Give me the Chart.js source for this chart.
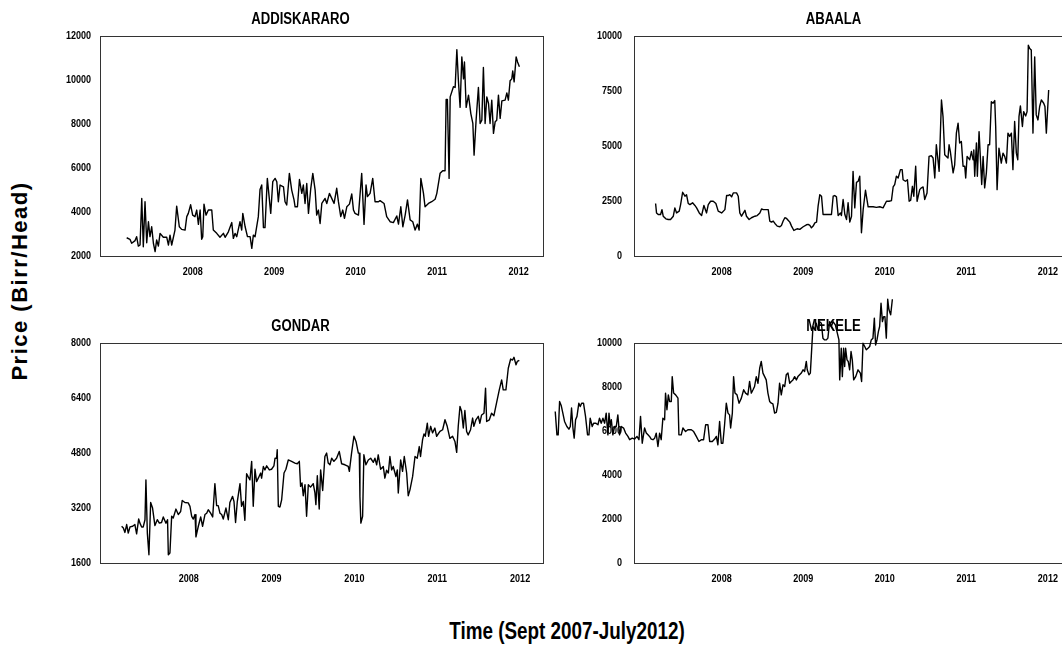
<!DOCTYPE html>
<html>
<head>
<meta charset="utf-8">
<title>Cattle price series</title>
<script src="https://cdn.jsdelivr.net/npm/chart.js@4.4.1/dist/chart.umd.min.js"></script>
<style>
  html, body { margin: 0; padding: 0; background: #fff; }
  body { width: 1062px; height: 649px; overflow: hidden; position: relative; }
  canvas { position: absolute; }
  .axis-title { position: absolute; font-weight: bold; color: #000; white-space: nowrap; }
</style>
</head>
<body>
<canvas id="cAddis"  width="490" height="284" style="left:58px;top:0px"></canvas>
<canvas id="cAbaala" width="577" height="284" style="left:545px;top:0px"></canvas>
<canvas id="cGondar" width="490" height="284" style="left:58px;top:307px"></canvas>
<canvas id="cMekele" width="577" height="301" style="left:545px;top:290px"></canvas>
<div id="yTitle" class="axis-title">Price (Birr/Head)</div>
<div id="xTitle" class="axis-title">Time (Sept 2007-July2012)</div>

<script>
// Weekly cattle prices (Birr/Head); time is counted in weeks from the first observation.
const yearLabels = ['2008', '2009', '2010', '2011', '2012'];
const tickWeeks  = [42.5, 95, 147.5, 200, 252.5];

const addisWeek = [
  0, 2.1, 3.2, 5.4, 6.4, 7.5, 8.6, 9.7, 10.7, 11.8,
  12.9, 14.0, 15.0, 16.1, 17.2, 18.3, 19.3, 20.4, 21.5, 23.6,
  25.8, 26.9, 27.9, 29.0, 31.1, 32.2, 33.9, 35.4, 37.6, 38.7,
  39.7, 41.2, 42.5, 44.0, 45.1, 46.2, 47.3, 48.3, 49.0, 49.8,
  51.1, 52.6, 54.8, 55.8, 58.0, 60.1, 62.3, 63.4, 65.5, 67.7,
  68.7, 69.8, 70.9, 73.0, 74.1, 74.8, 76.3, 77.8, 79.5, 80.6,
  81.6, 82.7, 84.8, 85.9, 87.0, 88.1, 89.1, 90.6, 92.8, 94.1,
  95.6, 96.7, 97.7, 98.8, 101.0, 102.0, 103.1, 104.8, 106.3, 107.8,
  108.5, 110.0, 111.3, 112.8, 113.8, 114.9, 116.0, 117.1, 118.6, 119.9,
  121.4, 122.4, 123.5, 124.6, 125.7, 127.8, 128.9, 130.6, 132.1, 133.6,
  135.3, 136.4, 137.9, 139.2, 140.3, 141.8, 143.5, 145.0, 146.1, 147.1,
  149.3, 151.4, 152.9, 154.2, 155.1, 156.8, 158.5, 160.0, 162.2, 163.2,
  165.8, 167.5, 169.7, 171.8, 174.0, 175.1, 176.6, 177.9, 179.4, 180.9,
  182.6, 184.3, 185.8, 187.3, 188.4, 189.5, 191.2, 192.2, 194.4, 196.5,
  198.7, 199.8, 201.9, 203.6, 205.1, 205.8, 206.6, 207.7, 208.4, 210.5,
  211.6, 212.7, 213.7, 214.8, 215.9, 217.0, 217.6, 218.7, 220.2, 221.7,
  223.0, 223.8, 225.1, 226.6, 227.7, 228.8, 229.8, 230.9, 232.0, 233.1,
  234.1, 235.2, 236.3, 237.4, 238.4, 239.5, 240.6, 241.7, 243.8, 244.9,
  245.9, 247.0, 248.1, 248.7, 249.6, 250.9, 251.8, 253.0
];
const addisPrice = [
  2830, 2760, 2580, 2700, 2880, 2450, 2500, 4620, 2420, 4470,
  2600, 3560, 2880, 3330, 2580, 2200, 2730, 2450, 3030, 2850,
  2850, 2500, 2950, 2500, 3180, 4270, 3330, 3210, 3180, 3790,
  3940, 4330, 3860, 3790, 4090, 3440, 4090, 2760, 2880, 4360,
  3860, 4090, 4090, 3180, 3030, 2850, 3030, 2850, 3100, 3520,
  2800, 3030, 2880, 3560, 3180, 3940, 3330, 2880, 2880, 2350,
  2950, 2880, 3790, 5030, 5230, 3290, 3290, 5530, 3940, 5380,
  5530, 5380, 4470, 5230, 5150, 4470, 4320, 5760, 5000, 4550,
  4240, 4240, 5480, 4850, 5230, 4390, 5300, 3940, 5080, 5760,
  5000, 3860, 4090, 3480, 4390, 4620, 4390, 4850, 4620, 4390,
  5080, 4470, 3790, 4090, 3710, 4240, 4360, 4820, 4090, 3940,
  3860, 5760, 3440, 5230, 4700, 4850, 5530, 4470, 4470, 4520,
  4390, 3790, 3560, 3520, 3820, 3450, 4240, 3330, 3860, 4550,
  3640, 3560, 3180, 3450, 3180, 5530, 4850, 4240, 4390, 4470,
  4580, 4850, 5760, 5880, 5880, 9120, 9120, 5530, 9240, 9700,
  9670, 11390, 9970, 8760, 11060, 10060, 10830, 8760, 9320, 8480,
  8030, 6590, 8180, 9670, 8030, 8180, 10580, 8030, 9240, 8940,
  8030, 9090, 7580, 8110, 8180, 9320, 8260, 9060, 9090, 9420,
  9090, 9970, 10060, 10420, 9920, 11060, 10830, 10610
];

const abaalaWeek = [
  0, 0.6, 1.7, 3.2, 4.1, 4.9, 6.6, 8.1, 9.6, 11.4,
  12.4, 13.5, 15.2, 16.1, 17.4, 18.9, 19.9, 21.0, 22.1, 23.8,
  25.3, 26.4, 28.1, 29.6, 31.1, 32.8, 33.9, 35.4, 37.1, 38.8,
  40.3, 42.5, 44.6, 45.7, 46.7, 47.8, 48.9, 50.0, 52.1, 53.2,
  54.2, 55.3, 57.5, 58.5, 60.2, 61.7, 63.9, 65.4, 67.1, 68.2,
  69.3, 70.3, 72.5, 73.5, 74.6, 75.7, 76.8, 78.3, 80.0, 81.0,
  82.1, 83.2, 84.3, 85.3, 86.4, 87.5, 89.0, 90.3, 91.1, 92.8,
  95.0, 97.1, 98.2, 99.3, 100.3, 101.4, 102.5, 103.6, 104.6, 105.7,
  106.8, 107.8, 110.0, 112.1, 113.2, 114.3, 115.3, 116.4, 117.5, 119.0,
  119.6, 120.7, 121.8, 122.9, 123.9, 125.0, 126.1, 127.1, 128.2, 129.3,
  130.4, 131.4, 132.5, 133.6, 135.1, 136.8, 138.3, 140.0, 142.1, 144.3,
  146.4, 148.6, 150.3, 151.8, 152.9, 153.9, 155.0, 156.1, 157.6, 158.7,
  159.3, 160.8, 162.1, 163.2, 164.2, 165.3, 166.2, 167.4, 168.3, 170.0,
  171.1, 172.2, 173.2, 174.7, 176.0, 177.5, 178.6, 179.7, 180.7, 182.5,
  184.0, 185.0, 186.1, 187.2, 188.2, 188.9, 189.7, 191.5, 192.5, 193.6,
  194.7, 195.7, 196.8, 197.9, 199.0, 199.6, 200.5, 202.2, 203.3, 204.3,
  204.8, 205.4, 206.5, 207.1, 208.2, 209.0, 209.9, 210.8, 211.8, 212.9,
  214.0, 215.0, 216.1, 217.2, 218.3, 218.9, 219.8, 221.0, 222.5, 223.6,
  224.7, 225.8, 226.8, 227.9, 229.0, 230.0, 231.1, 232.2, 233.1, 233.9,
  234.8, 236.1, 236.9, 238.2, 239.1, 239.9, 240.8, 241.8, 242.9, 244.0,
  245.0, 246.1, 247.2, 248.3, 249.8, 250.6, 251.5, 253.0
];
const abaalaPrice = [
  2390, 1960, 1890, 1890, 2110, 1810, 1690, 1660, 1660, 1810,
  2190, 1960, 2040, 2340, 2900, 2720, 2790, 2390, 2340, 2420,
  2300, 2190, 1960, 1840, 2300, 1960, 2340, 2490, 2490, 2390,
  2040, 1960, 2110, 2750, 2750, 2790, 2690, 2870, 2870, 2720,
  1960, 1810, 2080, 1810, 1660, 1740, 1810, 1840, 1960, 2140,
  2110, 2110, 2110, 1590, 1540, 1590, 1480, 1360, 1330, 1390,
  1590, 1740, 1710, 1630, 1540, 1360, 1160, 1210, 1240, 1210,
  1330, 1420, 1440, 1390, 1280, 1360, 1510, 1540, 2270, 2790,
  2720, 1890, 1890, 1890, 1890, 2720, 2750, 2690, 1840, 1960,
  1840, 2570, 1890, 1660, 2420, 1540, 1810, 3850, 2190, 3350,
  3400, 3630, 1060, 2110, 2990, 2240, 2240, 2240, 2210, 2240,
  2190, 2490, 2490, 2520, 3140, 3250, 3630, 3550, 3930, 3930,
  3470, 3400, 3470, 2490, 2540, 3170, 2720, 4080, 2490, 3020,
  3100, 3140, 2570, 2870, 4530, 4560, 4460, 3550, 5060, 3850,
  7100, 6340, 4610, 4530, 4460, 5060, 4760, 3780, 4150, 5590,
  6040, 5140, 5210, 4080, 4080, 3550, 4530, 4380, 4760, 4380,
  4830, 3630, 5140, 3630, 5660, 4530, 3250, 4530, 3100, 3780,
  5060, 5060, 7020, 6950, 7070, 5890, 3020, 4910, 4230, 4680,
  4530, 4230, 5590, 5440, 5590, 3930, 6120, 4680, 4380, 6340,
  6830, 5890, 6570, 6370, 6570, 9590, 9440, 9370, 5590, 9060,
  6420, 6190, 6800, 7100, 6950, 6800, 5590, 7550
];

const gondarWeek = [
  0, 1.1, 2.1, 3.2, 4.2, 5.3, 7.0, 8.4, 9.5, 10.8,
  11.6, 12.7, 13.7, 14.8, 15.4, 16.3, 17.3, 18.4, 19.6, 21.1,
  22.6, 23.9, 25.3, 26.4, 28.1, 29.1, 29.6, 30.6, 31.7, 32.7,
  34.4, 35.9, 37.4, 38.4, 40.1, 42.2, 43.3, 44.4, 45.4, 46.5,
  47.1, 48.6, 50.1, 51.3, 52.8, 53.9, 54.9, 56.4, 57.7, 59.1,
  60.2, 61.2, 62.3, 63.4, 64.4, 66.1, 67.6, 68.6, 70.3, 71.2,
  72.2, 73.3, 75.0, 76.0, 77.1, 78.1, 79.2, 80.3, 81.3, 82.4,
  83.4, 84.5, 85.5, 86.6, 88.1, 88.7, 89.8, 90.8, 91.9, 93.6,
  95.0, 96.5, 97.2, 98.2, 98.6, 99.3, 100.3, 101.4, 102.9, 104.1,
  105.6, 107.7, 109.8, 111.3, 112.6, 113.4, 114.3, 115.1, 116.2, 117.2,
  118.3, 119.7, 121.4, 122.5, 123.1, 124.0, 125.2, 126.1, 127.4, 128.8,
  129.9, 130.9, 132.0, 133.1, 134.5, 136.2, 137.9, 139.4, 141.5, 143.6,
  144.3, 145.7, 147.2, 148.5, 150.0, 150.6, 151.0, 151.6, 152.7, 153.5,
  154.8, 156.3, 157.8, 159.5, 160.5, 161.6, 162.6, 164.1, 165.8, 166.8,
  167.9, 169.0, 170.0, 171.1, 172.1, 173.8, 174.7, 175.3, 176.8, 178.0,
  179.1, 180.6, 181.6, 182.7, 184.4, 185.9, 187.3, 188.6, 189.4, 190.7,
  191.6, 192.4, 193.7, 194.5, 195.8, 197.0, 198.5, 199.6, 201.7, 203.4,
  204.9, 206.3, 208.0, 209.7, 211.2, 212.3, 213.3, 214.4, 215.4, 216.5,
  217.5, 218.6, 219.6, 221.1, 222.4, 223.2, 224.5, 226.0, 227.0, 228.1,
  229.6, 230.6, 231.3, 233.0, 234.4, 235.9, 237.6, 239.3, 240.8, 241.8,
  243.5, 245.0, 246.5, 247.7, 248.6, 249.9, 250.7, 252.0
];
const gondarPrice = [
  2670, 2620, 2490, 2720, 2470, 2650, 2670, 2720, 2450, 2880,
  2760, 2650, 2650, 2860, 4020, 2470, 1840, 3360, 3200, 2690,
  2860, 2760, 2780, 2940, 2760, 2860, 1840, 1890, 2960, 2910,
  3170, 3010, 3100, 3420, 3360, 3350, 3250, 2960, 2880, 3010,
  2360, 2670, 2940, 2670, 3010, 3050, 3150, 3050, 2940, 3910,
  3270, 3270, 3050, 3010, 2880, 3200, 2860, 3360, 3540, 3390,
  2780, 3390, 3910, 3250, 3390, 2840, 4200, 4100, 4020, 4560,
  3250, 4330, 3970, 4070, 4220, 4070, 4410, 4310, 4430, 4310,
  4330, 4430, 4650, 4650, 4900, 3250, 3230, 3440, 4220, 4330,
  4600, 4560, 4510, 4490, 4560, 3830, 3930, 3560, 3880, 2960,
  3880, 3810, 3910, 3640, 3300, 4140, 3170, 4310, 3710, 4700,
  4800, 4510, 4460, 4650, 4560, 4650, 4850, 4490, 4460, 4410,
  4270, 4800, 5290, 5140, 4800, 4800, 3540, 2760, 2960, 4750,
  4460, 4600, 4650, 4530, 4650, 4460, 4750, 4330, 4410, 4070,
  4300, 4220, 4700, 4310, 4410, 4120, 4310, 3640, 4600, 4270,
  4700, 4220, 3560, 3730, 4120, 4700, 4650, 4990, 4700, 5190,
  5360, 5290, 5670, 5290, 5580, 5390, 5530, 5290, 5430, 5480,
  5770, 5580, 5230, 5290, 5140, 4820, 5580, 6160, 6020, 5530,
  6040, 5430, 5330, 5480, 5820, 5580, 5770, 5870, 5670, 5910,
  5960, 6690, 5720, 5770, 5960, 5890, 6270, 6640, 6930, 6640,
  6640, 7270, 7540, 7510, 7590, 7370, 7470, 7500
];

const mekeleWeek = [
  -64.6, -63.5, -62.7, -61.8, -60.7, -59.7, -58.6, -57.1, -55.8, -54.9,
  -54.1, -53.2, -52.4, -51.5, -50.6, -49.4, -48.5, -47.6, -46.4, -45.1,
  -43.8, -42.9, -42.1, -40.8, -39.9, -38.6, -37.1, -36.1, -35.0, -33.9,
  -32.8, -31.8, -30.7, -30.0, -29.2, -28.5, -27.5, -26.4, -25.3, -24.3,
  -23.2, -22.1, -20.6, -19.3, -17.8, -16.7, -15.0, -13.5, -12.0, -10.7,
  -9.7, -8.6, -7.1, -6.0, -4.9, -3.9, -2.8, -1.7, -0.6, 0.4,
  1.5, 2.6, 3.6, 4.7, 5.8, 6.4, 7.3, 8.2, 9.0, 10.1,
  10.7, 11.6, 12.9, 14.4, 15.0, 16.5, 17.6, 19.3, 20.8, 23.0,
  24.5, 26.2, 27.9, 29.4, 30.9, 32.2, 33.7, 34.8, 36.5, 38.0,
  39.1, 40.1, 41.2, 42.3, 43.3, 44.4, 45.5, 46.6, 47.6, 48.3,
  49.4, 50.2, 51.1, 52.4, 53.7, 55.2, 56.7, 57.9, 59.4, 60.5,
  61.6, 62.7, 63.7, 64.8, 65.9, 67.0, 68.0, 69.1, 70.2, 71.2,
  72.3, 73.4, 74.5, 75.5, 76.6, 77.7, 78.8, 79.8, 80.9, 82.0,
  83.1, 84.1, 85.2, 86.3, 87.3, 88.4, 89.5, 90.6, 91.6, 93.8,
  94.9, 95.9, 97.0, 97.6, 98.7, 99.6, 100.2, 101.3, 102.4, 103.4,
  104.5, 105.6, 106.7, 107.7, 108.8, 109.9, 110.9, 112.0, 113.1, 114.2,
  115.7, 117.0, 118.0, 118.5, 119.5, 120.2, 121.0, 121.7, 122.3, 123.2,
  124.0, 124.9, 125.8, 126.6, 127.5, 128.8, 130.3, 131.8, 132.6, 133.5,
  134.6, 135.6, 136.7, 137.8, 138.8, 139.9, 140.8, 141.6, 142.5, 143.4,
  144.2, 145.1, 146.0, 146.8, 147.6, 148.5, 149.4, 150.2, 151.3, 152.4
];
const mekelePrice = [
  6890, 5830, 5830, 7350, 7150, 6820, 6440, 6210, 6090, 6210,
  7050, 6140, 5680, 6520, 6670, 7270, 7120, 7270, 7270, 6670,
  5830, 5830, 6590, 6210, 6360, 6360, 6290, 6590, 6360, 6590,
  6360, 6820, 5830, 6820, 6210, 6520, 5830, 6210, 6210, 6740,
  5830, 6210, 6140, 5910, 5760, 5610, 5680, 5640, 5760, 5610,
  6670, 5450, 6140, 5910, 5830, 5760, 5640, 5610, 5680, 5910,
  5300, 5910, 5610, 6590, 6520, 7730, 6970, 7650, 7350, 7350,
  8480, 7730, 7650, 7500, 5830, 5830, 6140, 5980, 6060, 6060,
  5980, 5760, 5530, 5610, 5610, 6290, 6290, 5530, 5530, 5640,
  5760, 5380, 6440, 5450, 5450, 6290, 7270, 6820, 6740, 6140,
  6820, 8480, 7730, 7650, 7270, 7500, 7880, 7730, 7650, 8260,
  7730, 7880, 8030, 8480, 8180, 8860, 9170, 8640, 8480, 8330,
  7730, 7350, 7270, 7240, 6820, 6850, 7270, 8180, 7650, 8110,
  8030, 8560, 8640, 8180, 8260, 8330, 8480, 8330, 8480, 8640,
  8790, 8710, 9170, 8790, 8560, 8640, 9390, 10760, 10610, 10910,
  10610, 10980, 10910, 10230, 10150, 10150, 10230, 10980, 10760, 10980,
  10830, 10450, 10150, 8330, 9770, 8480, 9770, 8940, 9770, 9240,
  9170, 8790, 9620, 9240, 8330, 8480, 8790, 8640, 8260, 10000,
  9850, 9700, 9770, 9850, 10150, 10230, 11140, 9920, 10150, 10530,
  10760, 11820, 10980, 11210, 11210, 10230, 12000, 11520, 11290, 12000
];

// ---- fonts: the charts use a condensed bold face; fall back to squeezing a regular one ----
function hasFont(name) {
  const c = document.createElement('canvas').getContext('2d');
  const s = 'ABCDEFGHIJKLMN 0123456789';
  c.font = 'bold 40px monospace';
  const base = c.measureText(s).width;
  c.font = 'bold 40px "' + name + '", monospace';
  return c.measureText(s).width !== base;
}
const NARROW = hasFont('Liberation Sans Narrow') ? '"Liberation Sans Narrow"'
             : hasFont('Arial Narrow') ? '"Arial Narrow"' : null;
const FAMILY = NARROW || '"Liberation Sans", Arial, sans-serif';
const SQUEEZE = NARROW ? 1 : 0.82;

const tickFont  = { family: FAMILY, size: 11, weight: 'bold' };
const titleFont = { family: FAMILY, size: 16, weight: 'bold', lineHeight: 1.2 };

// Horizontal squeeze of canvas text when no narrow face is installed
const condensePlugin = {
  id: 'condense',
  beforeInit(chart) {
    if (SQUEEZE === 1) return;
    const ctx = chart.ctx;
    const fill = ctx.fillText.bind(ctx);
    ctx.fillText = (t, x, y) => fill(t, x, y, ctx.measureText(t).width * SQUEEZE);
  }
};

// Closed frame around the plotting area
const framePlugin = {
  id: 'frame',
  beforeDatasetsDraw(chart) {
    const { ctx, chartArea: a } = chart;
    ctx.save();
    ctx.strokeStyle = '#333';
    ctx.lineWidth = 1;
    ctx.strokeRect(Math.round(a.left) + 0.5, Math.round(a.top) + 0.5,
                   Math.round(a.right - a.left), Math.round(a.bottom - a.top));
    ctx.restore();
  }
};

function panel(id, title, weeks, prices, o) {
  const points = weeks.map((w, i) => ({ x: w, y: prices[i] }));
  return new Chart(document.getElementById(id), {
    type: 'line',
    data: {
      datasets: [{
        data: points,
        borderColor: '#000',
        borderWidth: 1.4,
        borderJoinStyle: 'round',
        pointRadius: 0,
        tension: 0,
        fill: false,
        clip: o.clip
      }]
    },
    options: {
      responsive: false,
      animation: false,
      events: [],
      layout: { padding: { left: 0, right: o.padRight, top: 0, bottom: 0 } },
      plugins: {
        legend: { display: false },
        tooltip: { enabled: false },
        title: {
          display: true, text: title, color: '#000', font: titleFont,
          padding: { top: o.titleTop, bottom: 7 }
        }
      },
      scales: {
        x: {
          type: 'linear',
          bounds: 'data',
          grid: { display: false, drawTicks: false },
          border: { display: false },
          afterDataLimits: s => { s.min = o.xMin; s.max = o.xMax; },
          afterBuildTicks: s => { s.ticks = tickWeeks.map(v => ({ value: v })); },
          afterFit: s => { s.height = 28; },
          ticks: {
            color: '#000', font: tickFont, padding: 9,
            maxRotation: 0, autoSkip: false,
            callback: (v, i) => yearLabels[i]
          }
        },
        y: {
          type: 'linear',
          bounds: 'data',
          min: o.yMin, max: o.yMax,
          grid: { display: false, drawTicks: false },
          border: { display: false },
          afterBuildTicks: s => { s.ticks = o.yTicks.map(v => ({ value: v })); },
          afterFit: s => { s.width = o.yWidth; },
          ticks: { color: '#000', font: tickFont, padding: o.yPad, callback: v => String(v) }
        }
      }
    },
    plugins: [condensePlugin, framePlugin]
  });
}

panel('cAddis', 'ADDISKARARO', addisWeek, addisPrice, {
  xMin: -17.2, xMax: 268.2, yMin: 2000, yMax: 12000,
  yTicks: [2000, 4000, 6000, 8000, 10000, 12000],
  yWidth: 42, yPad: 9, padRight: 5, titleTop: 10
});
panel('cAbaala', 'ABAALA', abaalaWeek, abaalaPrice, {
  xMin: -13.9, xMax: 300.2, yMin: 0, yMax: 10000,
  yTicks: [0, 2500, 5000, 7500, 10000],
  yWidth: 89, yPad: 12, padRight: 0, titleTop: 10
});
panel('cGondar', 'GONDAR', gondarWeek, gondarPrice, {
  xMin: -13.7, xMax: 267.0, yMin: 1600, yMax: 8000,
  yTicks: [1600, 3200, 4800, 6400, 8000],
  yWidth: 42, yPad: 9, padRight: 5, titleTop: 10
});
panel('cMekele', 'MEKELE', mekeleWeek, mekelePrice, {
  xMin: -13.9, xMax: 300.2, yMin: 0, yMax: 10000,
  yTicks: [0, 2000, 4000, 6000, 8000, 10000],
  yWidth: 89, yPad: 12, padRight: 0, titleTop: 27, clip: false
});

// ---- shared axis titles ----
const yTitle = document.getElementById('yTitle');
yTitle.style.font = 'bold 22px "Liberation Sans", Arial, sans-serif';
yTitle.style.letterSpacing = '1.5px';
yTitle.style.left = '20px';
yTitle.style.top = '281px';
yTitle.style.transform = 'translate(-50%, -50%) rotate(-90deg)';

const xTitle = document.getElementById('xTitle');
xTitle.style.font = 'bold 23px ' + FAMILY;
xTitle.style.left = '567px';
xTitle.style.top = '631px';
xTitle.style.transform = 'translate(-50%, -50%) scaleX(' + SQUEEZE + ')';
</script>
</body>
</html>
